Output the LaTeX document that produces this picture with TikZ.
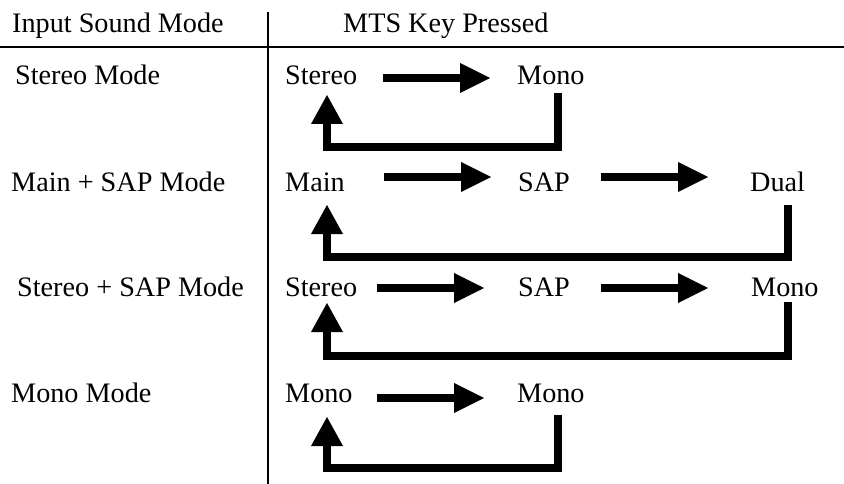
\documentclass[tikz,border=0pt]{standalone}
\usepackage{fontspec}
\setmainfont{Liberation Serif}
\usetikzlibrary{arrows.meta}
\begin{document}
\begin{tikzpicture}[x=1pt,y=-1pt,
  lbl/.style={anchor=base west,inner sep=0pt,font=\fontsize{28.2}{34}\selectfont},
  rule/.style={line width=1.6pt,black},
  fwd/.style={line width=8pt,-{Triangle[length=30pt,width=30pt,line width=0pt 0]}},
  back/.style={line width=8pt,line join=miter,-{Triangle[length=29pt,width=32pt,line width=0pt 0]}}]
\useasboundingbox (0,0) rectangle (844,484);
% table rules
\coordinate (vtop) at (268,12);
\coordinate (vbot) at (268,484);
\coordinate (hl) at (0,47);
\coordinate (hr) at (844,47);
\draw[rule] (vtop) -- (vbot);
\draw[rule] (hl) -- (hr);
% headers
\node[lbl] (h1) at (12,33) {Input Sound Mode};
\node[lbl] (h2) at (343,33) {MTS Key Pressed};
% left labels
\node[lbl] (m1) at (15,85) {Stereo Mode};
\node[lbl] (m2) at (11,192) {Main + SAP Mode};
\node[lbl] (m3) at (17,296) {Stereo + SAP Mode};
\node[lbl] (m4) at (11,402) {Mono Mode};
% row 1
\node[lbl] (a1) at (285,85) {Stereo};
\node[lbl] (b1) at (517,85) {Mono};
\coordinate (a1o) at (383,78);
\coordinate (b1i) at (490,78);
\draw[fwd] (a1o) -- (b1i);
\coordinate (b1d) at (558,93);
\coordinate (a1u) at (327,95);
\draw[back] (b1d) -- (558,147) -| (a1u);
% row 2
\node[lbl] (a2) at (285,192) {Main};
\node[lbl] (b2) at (518,192) {SAP};
\node[lbl] (c2) at (750,192) {Dual};
\coordinate (a2o) at (384,177);
\coordinate (b2i) at (491,177);
\coordinate (b2o) at (601,177);
\coordinate (c2i) at (708,177);
\draw[fwd] (a2o) -- (b2i);
\draw[fwd] (b2o) -- (c2i);
\coordinate (c2d) at (788,205);
\coordinate (a2u) at (327,205);
\draw[back] (c2d) -- (788,257) -| (a2u);
% row 3
\node[lbl] (a3) at (285,296) {Stereo};
\node[lbl] (b3) at (518,296) {SAP};
\node[lbl] (c3) at (751,296) {Mono};
\coordinate (a3o) at (377,288);
\coordinate (b3i) at (484,288);
\coordinate (b3o) at (601,288);
\coordinate (c3i) at (708,288);
\draw[fwd] (a3o) -- (b3i);
\draw[fwd] (b3o) -- (c3i);
\coordinate (c3d) at (788,302);
\coordinate (a3u) at (327,303);
\draw[back] (c3d) -- (788,356) -| (a3u);
% row 4
\node[lbl] (a4) at (285,402) {Mono};
\node[lbl] (b4) at (517,402) {Mono};
\coordinate (a4o) at (377,398);
\coordinate (b4i) at (484,398);
\draw[fwd] (a4o) -- (b4i);
\coordinate (b4d) at (558,415);
\coordinate (a4u) at (327,417);
\draw[back] (b4d) -- (558,468) -| (a4u);
\end{tikzpicture}
\end{document}
